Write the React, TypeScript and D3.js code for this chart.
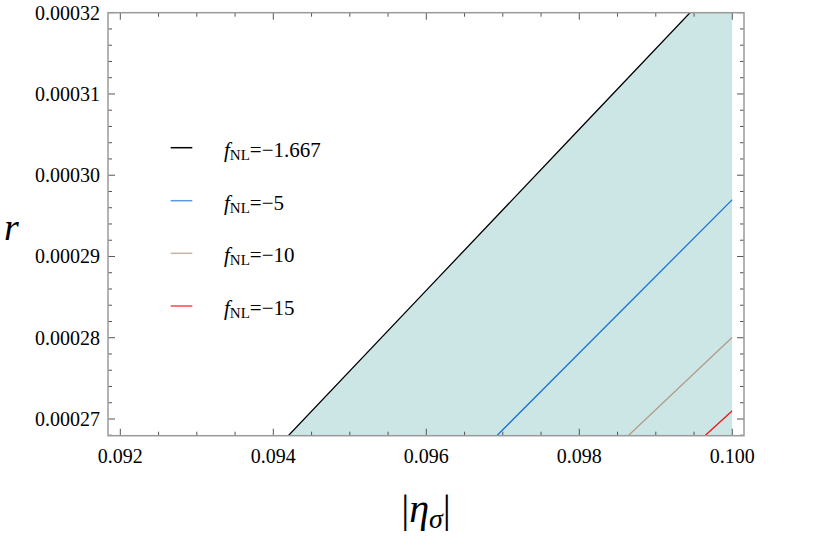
import React from "react";
import * as d3 from "d3";

const etaValues = [0.092, 0.094, 0.096, 0.098, 0.1];
const rBlack = [0.00024618, 0.000266, 0.00028583, 0.00030565, 0.00032548];
const rBlue = [0.00022148, 0.00024036, 0.00025924, 0.00027812, 0.000297];
const rTan = [0.00020885, 0.00022665, 0.00024445, 0.00026225, 0.00028005];
const rRed = [0.00020222, 0.00021942, 0.00023662, 0.00025382, 0.00027102];

const seriesNames = ["=\u22121.667", "=\u22125", "=\u221210", "=\u221215"];
const seriesColors = ["#000000", "#1a73d1", "#b09c88", "#f01414"];
const legendColors = ["#000000", "#5b9ad8", "#c4b4a4", "#f04848"];

const xTicks = [0.092, 0.094, 0.096, 0.098, 0.1];
const yTicks = [0.00027, 0.00028, 0.00029, 0.0003, 0.00031, 0.00032];

const W = 817;
const H = 545;
const L = 108, R = 744, T = 12.7, B = 435.7;

export default function App() {
  const x = d3.scaleLinear().domain([0.0918392, 0.100153]).range([L, R]);
  const y = d3.scaleLinear().domain([0.000267945, 0.00032]).range([B, T]);
  const allSeries = [rBlack, rBlue, rTan, rRed];
  const line = d3
    .line<number>()
    .x((_, i) => x(etaValues[i]))
    .y((d) => y(d));
  const area = d3
    .area<number>()
    .x((_, i) => x(etaValues[i]))
    .y0(() => B + 50)
    .y1((d) => y(d));

  const xMinor: number[] = [];
  for (let k = 0; k <= 16; k++) xMinor.push(0.092 + k * 0.0005);
  const yMinor: number[] = [];
  for (let k = 0; k <= 30; k++) yMinor.push(0.00026 + k * 0.000002);
  const isMajorX = (v: number) => xTicks.some((t) => Math.abs(t - v) < 1e-7);
  const isMajorY = (v: number) => yTicks.some((t) => Math.abs(t - v) < 1e-10);

  const fx = d3.format(".3f");
  const fy = d3.format(".5f");
  const font = "'Liberation Serif', 'Times New Roman', serif";
  const tickCol = "#555";
  const frameCol = "#9a9a9a";

  const legendY = [147.7, 200.7, 253.3, 306];

  return (
    <svg
      width={W}
      height={H}
      style={{ position: "absolute", left: 0, top: 0, background: "#fff" }}
      fontFamily={font}
    >
      <defs>
        <clipPath id="plotclip">
          <rect x={L} y={T} width={R - L} height={B - T} />
        </clipPath>
      </defs>
      <g clipPath="url(#plotclip)">
        <path d={area(rBlack) || ""} fill="#cce5e5" stroke="none" />
        {allSeries.map((s, i) => (
          <path
            key={i}
            d={line(s) || ""}
            fill="none"
            stroke={seriesColors[i]}
            strokeWidth={1.3}
          />
        ))}
      </g>
      {/* white strip beyond x=0.1 */}
      <rect x={x(0.1)} y={T} width={R - x(0.1)} height={B - T} fill="#fff" />
      {/* ticks */}
      {xMinor
        .filter((v) => x(v) >= L && x(v) <= R)
        .map((v, i) => {
          const len = isMajorX(v) ? 7 : 4;
          return (
            <g key={"xt" + i} stroke={tickCol} strokeWidth={1}>
              <line x1={x(v)} x2={x(v)} y1={B} y2={B - len} />
              <line x1={x(v)} x2={x(v)} y1={T} y2={T + len} />
            </g>
          );
        })}
      {yMinor
        .filter((v) => y(v) >= T - 0.5 && y(v) <= B)
        .map((v, i) => {
          const len = isMajorY(v) ? 7 : 4;
          return (
            <g key={"yt" + i} stroke={tickCol} strokeWidth={1}>
              <line x1={L} x2={L + len} y1={y(v)} y2={y(v)} />
              <line x1={R} x2={R - len} y1={y(v)} y2={y(v)} />
            </g>
          );
        })}
      {/* frame */}
      <rect x={L} y={T} width={R - L} height={B - T} fill="none" stroke={frameCol} strokeWidth={1.5} />
      {/* tick labels */}
      {xTicks.map((t, i) => (
        <text key={"xl" + i} x={x(t)} y={463} textAnchor="middle" fontSize={20} fill="#000">
          {fx(t)}
        </text>
      ))}
      {yTicks.map((t, i) => (
        <text key={"yl" + i} x={100} y={y(t) + 7} textAnchor="end" fontSize={20} fill="#000">
          {fy(t)}
        </text>
      ))}
      {/* axis labels */}
      <text x={4} y={240} fontSize={38} fontStyle="italic" fill="#000">
        r
      </text>
      <text x={426} y={522} textAnchor="middle" fontSize={40} fill="#000">
        <tspan>|</tspan>
        <tspan fontStyle="italic">η</tspan>
        <tspan fontStyle="italic" fontSize={28} dy={6}>σ</tspan>
        <tspan dy={-6}>|</tspan>
      </text>
      {/* legend */}
      {seriesNames.map((n, i) => (
        <g key={"lg" + i}>
          <line x1={170.7} x2={192.3} y1={legendY[i]} y2={legendY[i]} stroke={legendColors[i]} strokeWidth={1.5} />
          <text x={224} y={legendY[i] + 9} fontSize={21} fill="#000">
            <tspan fontStyle="italic">f</tspan>
            <tspan fontSize={15} dy={3}>NL</tspan>
            <tspan dy={-3}>{n}</tspan>
          </text>
        </g>
      ))}
    </svg>
  );
}
